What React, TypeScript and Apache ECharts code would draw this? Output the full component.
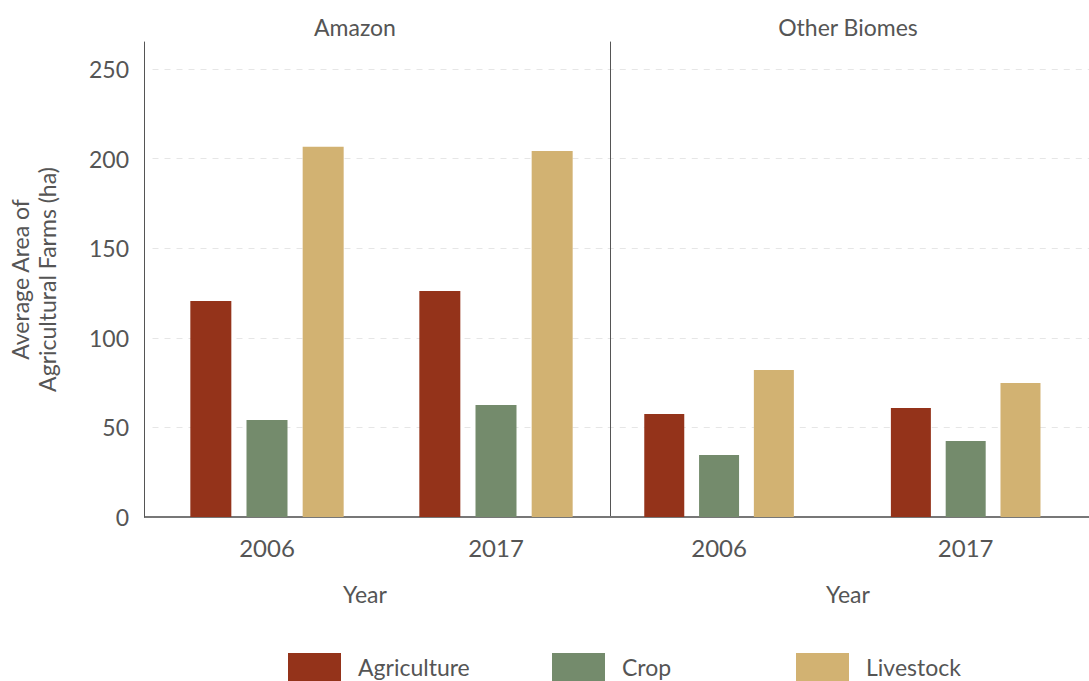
import React, { useEffect, useRef } from "react";
import * as echarts from "echarts";

const years = ["2006", "2017"];
const facets = ["Amazon", "Other Biomes"];
const seriesNames = ["Agriculture", "Crop", "Livestock"];
const amazonAgriculture = [120.5, 126.1];
const amazonCrop = [54.1, 62.5];
const amazonLivestock = [206.5, 204.2];
const otherAgriculture = [57.5, 60.8];
const otherCrop = [34.6, 42.4];
const otherLivestock = [82.0, 74.8];
const yTicks = [0, 50, 100, 150, 200, 250];
const colors = ["#94331a", "#748b6c", "#d2b272"];

const FONT = "Lato, 'Open Sans', sans-serif";
const TXT = "#555555";

export default function App() {
  const ref = useRef<HTMLDivElement>(null);
  useEffect(() => {
    if (!ref.current) return;
    const chart = echarts.init(ref.current, null, { renderer: "svg" });
    const yMax = 265;
    const gridColors = yTicks.map(() => "#e6e6e6").concat(["rgba(0,0,0,0)"]);
    const mkY = (idx: number, left: boolean, offset: number) => ({
      type: "value",
      gridIndex: idx,
      min: 0,
      max: yMax,
      interval: 50,
      offset,
      name: left ? "Average Area of\nAgricultural Farms (ha)" : "",
      nameLocation: "middle",
      nameRotate: 90,
      nameGap: 84,
      nameTextStyle: { color: TXT, fontSize: 23, fontFamily: FONT, lineHeight: 27 },
      axisLine: { show: true, lineStyle: { color: "#555", width: 1 } },
      axisTick: { show: false },
      axisLabel: {
        show: left,
        color: TXT,
        fontSize: 23,
        fontFamily: FONT,
        margin: 15,
        formatter: (v: number) => (yTicks.includes(v) ? String(v) : ""),
      },
      splitLine: {
        show: true,
        lineStyle: { color: gridColors, type: [6, 6], width: 1 },
      },
    });
    const mkX = (idx: number) => ({
      type: "category",
      gridIndex: idx,
      data: years,
      axisLine: { show: true, lineStyle: { color: "#777", width: 2 } },
      axisTick: { show: false },
      axisLabel: { color: TXT, fontSize: 24, fontFamily: FONT, margin: 18 },
    });
    const mkBar = (name: string, data: number[], idx: number, color: string, w: number) => ({
      type: "bar",
      name,
      data,
      xAxisIndex: idx,
      yAxisIndex: idx,
      barWidth: w,
      barGap: "37%",
      itemStyle: { color },
    });
    const titleStyle = { color: TXT, fontSize: 23, fontWeight: "normal", fontFamily: FONT };
    const legendPos = [288, 552, 796];
    chart.setOption({
      animation: false,
      textStyle: { fontFamily: FONT },
      grid: [
        { left: 152.5, width: 458, top: 42, height: 475, containLabel: false },
        { left: 595.75, width: 495, top: 42, height: 475, containLabel: false },
      ],
      title: [
        { text: facets[0], left: 355, top: 15, padding: 0, textAlign: "center", textStyle: titleStyle },
        { text: facets[1], left: 848, top: 15, padding: 0, textAlign: "center", textStyle: titleStyle },
        { text: "Year", left: 365, top: 582, padding: 0, textAlign: "center", textStyle: titleStyle },
        { text: "Year", left: 848, top: 582, padding: 0, textAlign: "center", textStyle: titleStyle },
      ],
      legend: seriesNames.map((n, i) => ({
        left: legendPos[i],
        top: 653,
        padding: 0,
        icon: "rect",
        itemWidth: 53,
        itemHeight: 28,
        itemGap: 0,
        data: [n],
        textStyle: { color: TXT, fontSize: 23, fontFamily: FONT, padding: [0, 0, 0, 12] },
      })),
      xAxis: [mkX(0), mkX(1)],
      yAxis: [mkY(0, true, 8.5), mkY(1, false, -14.75)],
      graphic: [
        { type: "line", shape: { x1: 144, y1: 517, x2: 153, y2: 517 }, style: { stroke: "#777", lineWidth: 2 } },
      ],
      series: [
        mkBar(seriesNames[0], amazonAgriculture, 0, colors[0], 41),
        mkBar(seriesNames[1], amazonCrop, 0, colors[1], 41),
        mkBar(seriesNames[2], amazonLivestock, 0, colors[2], 41),
        mkBar(seriesNames[0], otherAgriculture, 1, colors[0], 40),
        mkBar(seriesNames[1], otherCrop, 1, colors[1], 40),
        mkBar(seriesNames[2], otherLivestock, 1, colors[2], 40),
      ],
    });
    return () => chart.dispose();
  }, []);
  return <div ref={ref} style={{ width: 1089, height: 681, position: "absolute", left: 0, top: 0 }} />;
}
